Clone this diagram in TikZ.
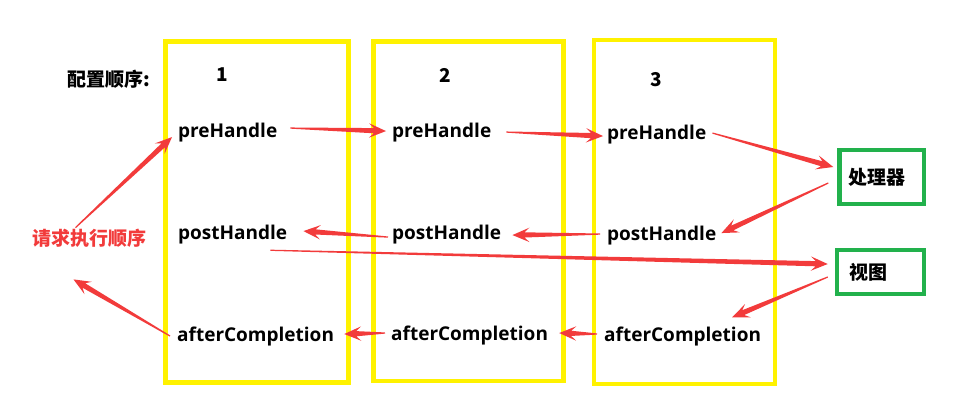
\documentclass[tikz,border=0pt]{standalone}
\usepackage{fontspec}
\setmainfont{Open Sans}
\newfontfamily\cjk{Noto Sans CJK SC}
\usetikzlibrary{calc}
\definecolor{stageyellow}{HTML}{FFF200}
\definecolor{unitgreen}{HTML}{22B14C}
\definecolor{flowred}{HTML}{F23B3B}
\definecolor{ink}{HTML}{000000}
% tapered arrow from #1 to #2
\newcommand{\taper}[2]{%
  \coordinate (tt) at (#1); \coordinate (th) at (#2);
  \fill[flow] ($(tt)!0.6pt!90:(th)$) -- ($(th)!12pt!(tt)!2.6pt!-90:(tt)$)
    -- ($(th)!17pt!(tt)!7.2pt!-90:(tt)$) -- (th) -- ($(th)!17pt!(tt)!7.2pt!90:(tt)$)
    -- ($(th)!12pt!(tt)!2.6pt!90:(tt)$) -- ($(tt)!0.6pt!-90:(th)$) -- cycle;}

\begin{document}
\begin{tikzpicture}[x=1pt,y=-1pt,
    stage/.style={draw=stageyellow,line width=4.5pt},
    unit/.style={draw=unitgreen,line width=4.5pt,align=left,inner ysep=0pt,text=ink,font=\cjk\bfseries\fontsize{19}{22}\selectfont},
    hook/.style={anchor=base west,inner sep=5pt,text=ink,font=\bfseries\fontsize{19}{22}\selectfont},
    label/.style={inner sep=3pt,text=ink,font=\cjk\bfseries\fontsize{19}{22}\selectfont},
    flow/.style={fill=flowred}]
    \fill[white] (0,0) rectangle (974,410);
    \useasboundingbox (0,0) rectangle (974,410);
    % interceptor columns
    \draw[stage] (165.5,41.5) rectangle (348.5,382.5);
    \draw[stage] (373.5,41.5) rectangle (563.5,381);
    \draw[stage] (594,40) rectangle (775,384);
    \node[label,anchor=base] (n1) at (222.5,81) {1};
    \node[label,anchor=base] (n2) at (445,82) {2};
    \node[label,anchor=base] (n3) at (656.5,86) {3};
    \node[label] (cfg) at (109,79) {配置顺序:};
    \node[label,text=flowred] (order) at (89.5,238) {请求执行顺序};
    % hooks
    \node[hook] (pre1) at (173,137) {preHandle};
    \node[hook] (pre2) at (387,137) {preHandle};
    \node[hook] (pre3) at (602,139) {preHandle};
    \node[hook] (post1) at (173,239) {postHandle};
    \node[hook] (post2) at (387,239) {postHandle};
    \node[hook] (post3) at (602,240) {postHandle};
    \node[hook] (after1) at (172,341) {afterCompletion};
    \node[hook] (after2) at (386,340) {afterCompletion};
    \node[hook] (after3) at (599,341) {afterCompletion};
    % handler and view
    \node[unit,minimum height=54pt,inner xsep=8.5pt,text width=67.5pt] (handler) at (881.75,177) {处理器};
    \node[unit,minimum height=44pt,inner xsep=12pt,text width=63pt] (view) at (880.5,272) {视图};
    % request flow
    \taper{$(order.north)+(-14,2)$}{$(pre1.west)+(-1,5)$}
    \taper{$(pre1.east)+(8,-4)$}{$(pre2.west)+(-1,-1)$}
    \taper{$(pre2.east)+(10,0)$}{$(pre3.west)+(1,2)$}
    \taper{$(pre3.east)+(1,-1)$}{$(handler.west)+(-4,-10)$}
    \taper{$(handler.west)+(-9,6)$}{$(post3.east)+(0,-2)$}
    \taper{$(post3.west)+(-2,-1)$}{$(post2.east)+(6,1)$}
    \taper{$(post2.west)+(1,3)$}{$(post1.east)+(11,-3)$}
    \taper{$(post1.south east)+(-22,1.5)$}{$(view.west)+(-7,-8)$}
    \taper{$(view.west)+(-7,5)$}{$(after3.north east)+(-34,-4)$}
    \taper{$(after3.west)+(-2,-2)$}{$(after2.east)+(6,-2)$}
    \taper{$(after2.west)+(-1,-2)$}{$(after1.east)+(5,-2)$}
    \taper{$(after1.west)+(-2,0)$}{$(order.south)+(-16,29)$}
\end{tikzpicture}
\end{document}
